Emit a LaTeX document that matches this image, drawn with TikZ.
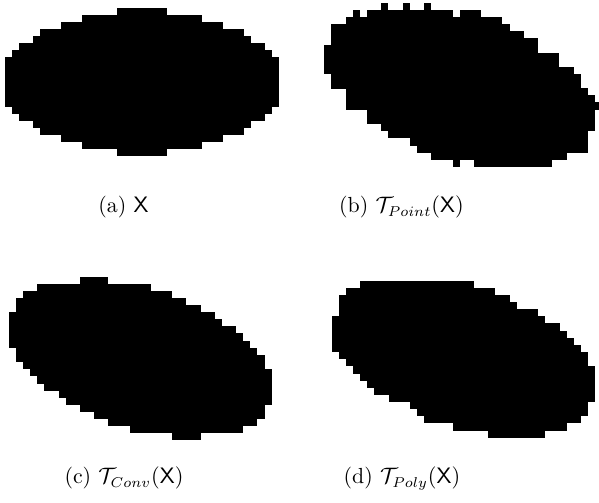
\documentclass[tikz,border=0pt]{standalone}
\usepackage{tikz}
\usetikzlibrary{positioning}
\usepackage{amsmath,amssymb}
\usepackage{xcolor}
\definecolor{pxInk}{HTML}{000000}
\tikzset{
  pix/.style={fill=pxInk},
  capn/.style={inner sep=0pt, anchor=base, font=\fontsize{10.7}{13}\selectfont},
}

\begin{document}
\begin{tikzpicture}[x=0.49pt, y=-0.49pt]
  \useasboundingbox (0,0) rectangle (599,503);
  % ---------- X ----------
  \begin{scope}[shift={(5,8)}, x=3.445pt, y=-3.445pt]
    \foreach \r/\a/\b in {0/16/23,1/11/28,2/8/31,3/5/34,4/4/35,5/2/37,6/1/38,
        7/0/39,8/0/39,9/0/39,10/0/39,11/0/39,12/0/39,13/0/39,
        14/1/38,15/2/37,16/4/35,17/5/34,18/8/31,19/11/28,20/16/23}
      \fill[pix] (\a,\r) rectangle (\b,\r+1.05);
  \end{scope}
  % ---------- T_Point ----------
  \begin{scope}[shift={(324.33,2.67)}, x=3.491pt, y=-3.491pt]
    \foreach \r/\a/\b in {0/8/9,0/11/12,0/14/15,1/4/5,1/6/18,1/19/22,
        2/3/25,3/1/26,4/1/28,5/1/30,6/0/30,7/0/33,8/0/33,9/0/35,
        10/1/36,11/1/36,12/3/37,13/3/38,14/3/39,15/6/38,16/6/38,17/8/38,
        18/9/37,19/12/37,20/13/37,21/15/34,22/18/19,22/21/32}
      \fill[pix] (\a,\r) rectangle (\b,\r+1.05);
  \end{scope}
  % ---------- T_Conv ----------
  \begin{scope}[shift={(9,276.67)}, x=3.479pt, y=-3.479pt]
    \foreach \r/\a/\b in {0/10/14,1/4/20,2/2/23,3/1/25,4/1/27,5/0/29,6/0/30,
        7/0/32,8/0/33,9/0/34,10/1/35,11/1/36,12/2/36,13/3/37,14/4/37,
        15/5/37,16/7/37,17/8/37,18/10/36,19/12/36,20/14/35,21/17/33,22/23/27}
      \fill[pix] (\a,\r) rectangle (\b,\r+1.05);
  \end{scope}
  % ---------- T_Poly ----------
  \begin{scope}[shift={(331.67,280.67)}, x=3.489pt, y=-3.489pt]
    \foreach \r/\a/\b in {0/4/20,1/2/23,2/1/25,3/1/26,4/1/29,5/0/30,6/0/32,
        7/0/33,8/0/34,9/0/35,10/1/36,11/2/36,12/3/37,13/4/37,14/5/37,
        15/6/37,16/8/37,17/11/36,18/12/36,19/13/35,20/17/33,21/22/30}
      \fill[pix] (\a,\r) rectangle (\b,\r+1.05);
  \end{scope}
  % ---------- captions ----------
  \node[capn] (capX) at (123.5,213) {(a) $\mathsf{X}$};
  \node[capn] (capPoint) at (401.5,213) {(b) $\mathcal{T}_{Point}(\mathsf{X})$};
  \node[capn] (capConv) at (124,484) {(c) $\mathcal{T}_{Conv}(\mathsf{X})$};
  \node[capn] (capPoly) at (402,484) {(d) $\mathcal{T}_{Poly}(\mathsf{X})$};
\end{tikzpicture}
\end{document}
